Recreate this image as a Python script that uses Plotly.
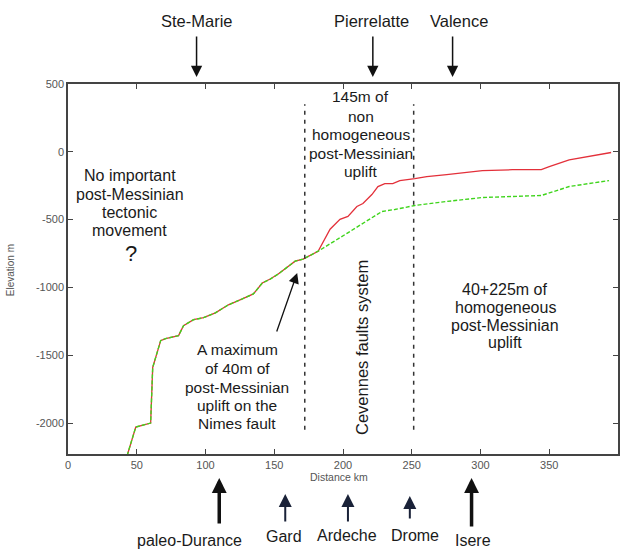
import plotly.graph_objects as go

# ---------------- data ----------------
# common profile (both curves coincide) – distance km / elevation m
shared_x = [43, 49.3, 60.1, 61.6, 67.4, 71, 80.4, 84, 91.3, 98.6, 107.2, 116.7,
            126.8, 134.8, 141.3, 147.1, 152.9, 160.1, 165.2, 171, 181.9]
shared_y = [-2240, -2029, -2000, -1590, -1392, -1377, -1355, -1282, -1238, -1223,
            -1187, -1128, -1084, -1048, -967, -938, -901, -843, -806, -791, -733]

# red (present-day) tail
red_x = [190.6, 197.8, 203.6, 210.1, 214.5, 221, 225.4, 230.4, 236.2, 241.3,
         252.2, 260.9, 275.4, 301.4, 323.2, 344.2, 350, 364.5, 395]
red_y = [-571, -498, -476, -403, -381, -315, -256, -234, -234, -212,
         -198, -183, -168, -139, -132, -132, -110, -59, -5]

# green (restored) tail
green_x = [202.9, 214.5, 228.3, 237.7, 252.2, 275.4, 301.4, 344.2, 364.5, 393.5]
green_y = [-601, -527, -440, -425, -396, -366, -337, -322, -256, -212]

fault_x = [172.2, 251.4]
fault_y = [-2050, 350]

top_places = ["Ste-Marie", "Pierrelatte", "Valence"]
top_km = [93.5, 221.7, 279.7]

rivers = ["paleo-Durance", "Gard", "Ardeche", "Drome", "Isere"]
river_km = [110, 158, 203.6, 248.6, 293.5]

x_ticks = [0, 50, 100, 150, 200, 250, 300, 350, 400]
x_ticktext = ["0", "50", "100", "150", "200", "250", "300", "350", "400"]
y_ticks = [-2000, -1500, -1000, -500, 0, 500]
y_ticktext = ["-2000", "-1500", "-1000", "-500", "0", "500"]
x_range = [0, 400]
y_range = [-2228, 500]

text_blocks = [
    # lines, x km, pixel y of each line, font size
    (["No important", "post-Messinian", "tectonic", "movement"], 45, [175, 194, 212, 230], 16),
    (["145m of", "non", "homogeneous", "post-Messinian", "uplift"], 213, [97, 116, 134, 153, 171], 15.5),
    (["A maximum", "of 40m of", "post-Messinian", "uplift on the", "Nimes fault"], 123,
     [349, 368, 387, 405, 423], 15.5),
    (["40+225m of", "homogeneous", "post-Messinian", "uplift"], 318, [289, 307, 325, 342], 16),
]

# ---------------- figure ----------------
FONT = "Liberation Sans, Arial, sans-serif"
TXT = "#1a1a1a"
W, H = 626, 550
L, R, T, B = 68, 6, 84, 96
PW, PH = W - L - R, H - T - B


def px2paper_y(py):
    return (H - B - py) / PH


def px2paper_x(px):
    return (px - L) / PW


fig = go.Figure()

fig.add_trace(go.Scatter(x=shared_x + red_x, y=shared_y + red_y, mode="lines",
                         line=dict(color="#e3303a", width=1.3),
                         hoverinfo="skip", showlegend=False))
fig.add_trace(go.Scatter(x=shared_x + green_x, y=shared_y + green_y, mode="lines",
                         line=dict(color="#3fd41c", width=1.4, dash="4px,2px"),
                         hoverinfo="skip", showlegend=False))

for fx in fault_x:
    fig.add_shape(type="line", x0=fx, x1=fx, y0=fault_y[0], y1=fault_y[1],
                  xref="x", yref="y",
                  line=dict(color="#333333", width=1.5, dash="4px,5px"))

ann = []

# top places with downward arrows
top_label_px = [197, 373, 460]
for name, km, lpx in zip(top_places, top_km, top_label_px):
    ann.append(dict(text=name, x=px2paper_x(lpx), y=px2paper_y(21), xref="paper",
                    yref="paper", showarrow=False, font=dict(size=16.5, color=TXT, family=FONT),
                    xanchor="center", yanchor="middle"))
    ann.append(dict(text="", x=km, y=px2paper_y(77), xref="x", yref="paper",
                    showarrow=True, ax=0, ay=-42, arrowhead=2, arrowsize=1.5,
                    arrowwidth=1.5, arrowcolor="#111", standoff=0))

# rivers with upward arrows
river_label_px = [190, 285, 348, 416, 474]
river_label_py = [540, 536, 535, 535, 540]
river_head_py = [478, 494, 494, 496, 478]
river_len = [47, 29, 29, 24, 50]
river_w = [3.5, 2, 2, 2, 3.5]
river_size = [0.85, 1.3, 1.3, 1.3, 0.85]
river_col = ["#111", "#1a2238", "#1a2238", "#1a2238", "#111"]
for name, km, lpx, lpy, hpy, ln, wd, sz, col in zip(rivers, river_km, river_label_px,
                                                     river_label_py, river_head_py,
                                                     river_len, river_w, river_size,
                                                     river_col):
    ann.append(dict(text=name, x=px2paper_x(lpx), y=px2paper_y(lpy), xref="paper",
                    yref="paper", showarrow=False, font=dict(size=16, color=TXT, family=FONT),
                    xanchor="center", yanchor="middle"))
    ann.append(dict(text="", x=km, y=px2paper_y(hpy), xref="x", yref="paper",
                    showarrow=True, ax=0, ay=ln, arrowhead=2, arrowsize=sz,
                    arrowwidth=wd, arrowcolor=col, standoff=0))

# in-plot texts, one annotation per line for tight line spacing
for lines, xkm, pys, fs in text_blocks:
    for line, py in zip(lines, pys):
        ann.append(dict(text=line, x=xkm, y=px2paper_y(py), xref="x", yref="paper",
                        showarrow=False, xanchor="center", yanchor="middle",
                        font=dict(size=fs, color=TXT, family=FONT)))

ann.append(dict(text="?", x=45.5, y=px2paper_y(253), xref="x", yref="paper",
                showarrow=False, yanchor="middle",
                font=dict(size=22, color=TXT, family=FONT)))
ann.append(dict(text="Cevennes faults system", x=213.8, y=px2paper_y(347), xref="x",
                yref="paper", showarrow=False, textangle=-90,
                xanchor="center", yanchor="middle",
                font=dict(size=16.5, color=TXT, family=FONT)))
# Nimes fault arrow
ann.append(dict(text="", x=166.7, y=-893, xref="x", yref="y", showarrow=True,
                ax=-21, ay=60, arrowhead=2, arrowsize=1.6, arrowwidth=1.3,
                arrowcolor="#111", standoff=0))

# axis titles
ann.append(dict(text="Elevation m", x=px2paper_x(10), y=px2paper_y(270), xref="paper",
                yref="paper", showarrow=False, textangle=-90,
                xanchor="center", yanchor="middle",
                font=dict(size=10, color="#555", family=FONT)))
ann.append(dict(text="Distance km", x=px2paper_x(340), y=px2paper_y(485), xref="paper",
                yref="paper", showarrow=False,
                font=dict(size=10.5, color="#555", family=FONT)))

axis_common = dict(showline=True, linecolor="#444", linewidth=1.5, mirror="ticks",
                   ticks="inside", ticklen=5, tickwidth=1.3, tickcolor="#444",
                   showgrid=False, zeroline=False,
                   tickfont=dict(size=11, color="#555", family=FONT))

fig.update_layout(
    width=W, height=H,
    margin=dict(l=L, r=R, t=T, b=B),
    paper_bgcolor="white", plot_bgcolor="white",
    xaxis=dict(range=x_range, tickvals=x_ticks, ticktext=x_ticktext, **axis_common),
    yaxis=dict(range=y_range, tickvals=y_ticks, ticktext=y_ticktext, **axis_common),
    annotations=ann,
    showlegend=False,
)

fig.write_html("out.html")
